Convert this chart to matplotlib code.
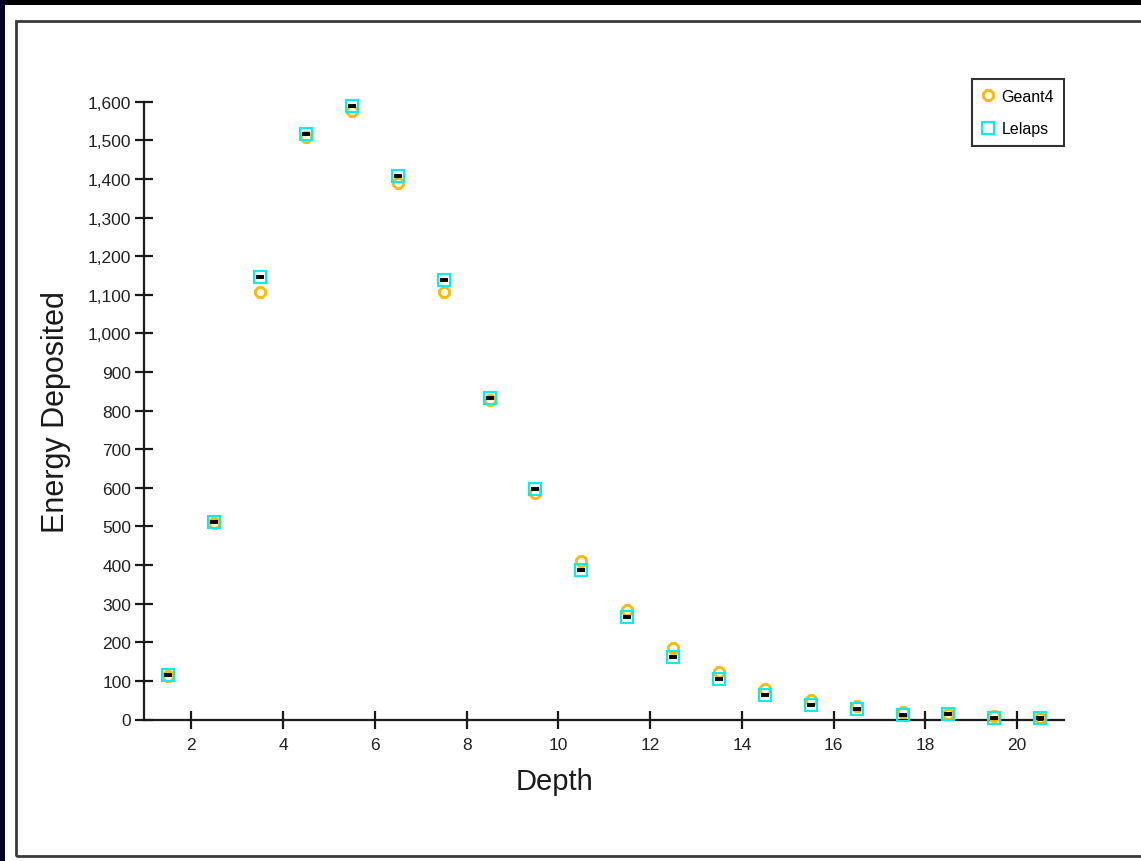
import matplotlib
matplotlib.use("Agg")
import matplotlib.pyplot as plt
from matplotlib.patches import Rectangle
from matplotlib.ticker import FuncFormatter, MultipleLocator

plt.rcParams['font.family'] = ['Liberation Sans', 'DejaVu Sans']

depth = [1.5, 2.5, 3.5, 4.5, 5.5, 6.5, 7.5, 8.5, 9.5, 10.5,
         11.5, 12.5, 13.5, 14.5, 15.5, 16.5, 17.5, 18.5, 19.5, 20.5]
geant4 = [112, 510, 1106, 1508, 1575, 1389, 1106, 828, 587, 410,
          283, 186, 122, 80, 50, 35, 20, 15, 8, 4]
lelaps = [115, 512, 1145, 1516, 1588, 1407, 1138, 832, 598, 388,
          265, 163, 104, 64, 38, 28, 12, 14, 5, 5]
series_labels = ["Geant4", "Lelaps"]
xlabel = "Depth"
ylabel = "Energy Deposited"
xticks = [2, 4, 6, 8, 10, 12, 14, 16, 18, 20]

W, H = 1141, 862
fig = plt.figure(figsize=(W / 100, H / 100), dpi=100, facecolor="white")

def px(x0, y0, x1, y1):
    return (x0 / W, 1 - y1 / H, (x1 - x0) / W, (y1 - y0) / H)

# outer dark strips
l, b, w, h = px(0, 0, W, 6)
fig.patches.append(Rectangle((l, b), w, h, transform=fig.transFigure, facecolor="black", edgecolor="none", zorder=0))
l, b, w, h = px(0, 0, 5, H)
fig.patches.append(Rectangle((l, b), w, h, transform=fig.transFigure, facecolor="#05052a", edgecolor="none", zorder=0))
# frame
l, b, w, h = px(16, 22, 1160, 857)
fig.patches.append(Rectangle((l, b), w, h, transform=fig.transFigure, facecolor="none", edgecolor="#3a3a3a", linewidth=2.0, zorder=1))

ax = fig.add_axes([144 / W, 1 - 720.5 / H, (1064.5 - 144) / W, (720.5 - 102.7) / H])
ax.set_facecolor("none")

ax.plot(depth, geant4, linestyle="none", marker="8", markersize=8, markerfacecolor="none",
        markeredgecolor="#FFB800", markeredgewidth=2.0, label=series_labels[0], clip_on=False, zorder=3)
ax.plot(depth, lelaps, linestyle="none", marker="s", markersize=8, markerfacecolor="none",
        markeredgecolor="#00F0F0", markeredgewidth=1.5, label=series_labels[1], clip_on=False, zorder=4)
ax.plot(depth, lelaps, linestyle="none", marker="_", markersize=6, markeredgecolor="black",
        markeredgewidth=2.8, clip_on=False, zorder=5)

ax.set_xlim(0.97, 21.03)
ax.set_ylim(0, 1600)
ax.set_xticks(xticks)
ax.yaxis.set_major_locator(MultipleLocator(100))
ax.yaxis.set_major_formatter(FuncFormatter(lambda v, p: f"{v:,.0f}"))

for s in ["top", "right"]:
    ax.spines[s].set_visible(False)
for s in ["left", "bottom"]:
    ax.spines[s].set_linewidth(1.6)
    ax.spines[s].set_color("#1a1a1a")

ax.tick_params(axis="both", direction="inout", length=12.5, width=1.6, color="#1a1a1a",
               labelsize=12.5, labelcolor="#222222")
ax.tick_params(axis="y", pad=3)
ax.tick_params(axis="x", pad=6.5)

ax.set_xlabel(xlabel, fontsize=21, color="#1a1a1a")
ax.xaxis.set_label_coords((555 - 144) / (1064.5 - 144), -(782 - 720.5) / (720.5 - 102.7))
ax.xaxis.label.set_va("center")
ax.set_ylabel(ylabel, fontsize=22, color="#1a1a1a", labelpad=12)

leg = ax.legend(loc="upper left", bbox_to_anchor=(972 / W, 1 - 80 / H), bbox_transform=fig.transFigure,
                fontsize=11.5, frameon=True, fancybox=False, edgecolor="black", handlelength=0.8,
                handletextpad=0.45, labelspacing=1.1, borderpad=0.6, borderaxespad=0)
leg.get_frame().set_linewidth(1.5)

fig.savefig("out.png", dpi=100, facecolor="white")
